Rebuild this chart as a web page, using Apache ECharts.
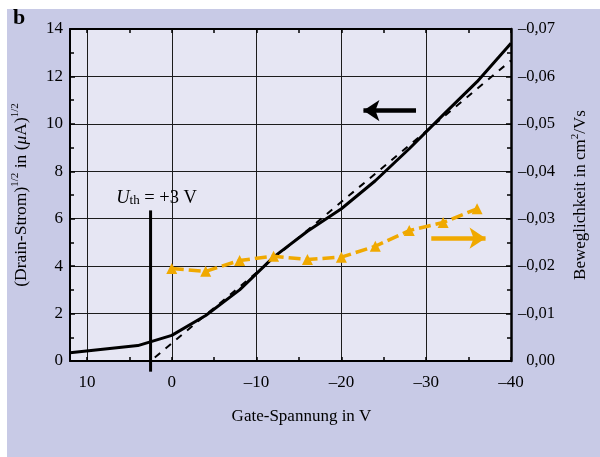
<!DOCTYPE html>
<html>
<head>
<meta charset="utf-8">
<script src="https://cdn.jsdelivr.net/npm/echarts@6/dist/echarts.min.js"></script>
<style>
html,body{margin:0;padding:0;background:#ffffff;}
#bg{position:absolute;left:7px;top:9px;width:593px;height:448px;background:#c8cae6;}
#c{position:absolute;left:0;top:0;width:600px;height:457px;}
</style>
</head>
<body>
<div id="bg"></div>
<div id="c"></div>
<script>
// ---- data ----
const gateV  = [12, 4, 0, -4, -8, -12, -16, -20, -24, -28, -32, -36, -40];
const sqrtId = [0.35, 0.65, 1.08, 1.92, 3.0, 4.38, 5.47, 6.42, 7.6, 8.95, 10.38, 11.78, 13.4];
const fitV   = [2.0, -40];
const fitY   = [0.15, 12.67];
const mobV   = [0, -4, -8, -12, -16, -20, -24, -28, -32, -36];
const mob    = [-0.0195, -0.0189, -0.0212, -0.0221, -0.0214, -0.0219, -0.0242, -0.0275, -0.0292, -0.0321];
const thV    = [2.5, 2.5];
const thY    = [-0.45, 6.35];
const arrowLeftV  = [-28.8, -22.6];   const arrowLeftY  = 10.56;
const arrowRightV = [-30.6, -37.0];   const arrowRightY = -0.0259;
const xTicksLabel = [10, 0, -10, -20, -30, -40];

const FONT = 'Liberation Serif';
const ORANGE = '#f0a900';
const GRIDC = '#1c1c1c';

function zip(a, b) { return a.map((v, i) => [v, b[i]]); }
function xFmt(v) {
  if (xTicksLabel.indexOf(v) < 0) return '';
  return v < 0 ? '\u2013' + (-v) : String(v);
}
function rFmt(v) {
  const s = Math.abs(v).toFixed(2).replace('.', ',');
  return Math.abs(v) < 1e-9 ? '0,00' : '\u2013' + s;
}

const chart = echarts.init(document.getElementById('c'), null, {renderer: 'canvas'});
const xBase = {type: 'value', min: -40, max: 12, inverse: true, gridIndex: 0};

chart.setOption({
  animation: false,
  backgroundColor: 'transparent',
  textStyle: {fontFamily: FONT},
  title: {text: 'b', left: 8, top: 2, textStyle: {fontFamily: FONT, fontSize: 22, fontWeight: 'bold', color: '#000'}},
  grid: {left: 70, right: 88, top: 29, bottom: 96, show: true, backgroundColor: '#e6e6f3', borderWidth: 0},
  xAxis: [
    Object.assign({}, xBase, {
      position: 'bottom', interval: 10,
      axisLine: {show: true, onZero: false, lineStyle: {color: '#000', width: 2}},
      axisTick: {show: false},
      axisLabel: {formatter: xFmt, margin: 13, color: '#000', fontSize: 17, fontFamily: FONT},
      splitLine: {show: true, lineStyle: {color: GRIDC, width: 1}},
      name: 'Gate-Spannung in V', nameLocation: 'middle', nameGap: 47,
      nameTextStyle: {fontFamily: FONT, fontSize: 17, color: '#000', padding: [0, 0, 0, 22]}
    }),
    Object.assign({}, xBase, {
      position: 'bottom', interval: 5,
      axisLine: {show: false, onZero: false},
      axisTick: {show: true, inside: true, length: 4, lineStyle: {color: '#000', width: 1.5}},
      axisLabel: {show: false}, splitLine: {show: false}
    }),
    Object.assign({}, xBase, {
      position: 'top', interval: 5,
      axisLine: {show: true, onZero: false, lineStyle: {color: '#000', width: 2}},
      axisTick: {show: true, inside: true, length: 4, lineStyle: {color: '#000', width: 1.5}},
      axisLabel: {show: false}, splitLine: {show: false}
    })
  ],
  yAxis: [
    {
      type: 'value', position: 'left', min: 0, max: 14, interval: 2,
      axisLine: {show: true, onZero: false, lineStyle: {color: '#000', width: 2}},
      axisTick: {show: true, inside: true, length: 5, lineStyle: {color: '#000', width: 1.5}},
      minorTick: {show: true, splitNumber: 2, length: 4, lineStyle: {color: '#000', width: 1.5}},
      axisLabel: {margin: 7, color: '#000', fontSize: 17, fontFamily: FONT},
      splitLine: {show: true, lineStyle: {color: GRIDC, width: 1}},
      name: '(Drain-Strom){sup|1/2} in ({mu|\u03bc}A){sup|1/2}',
      nameLocation: 'middle', nameGap: 38, nameRotate: 90,
      nameTextStyle: {
        fontFamily: FONT, fontSize: 17.5, color: '#000', lineHeight: 22,
        rich: {
          sup: {fontFamily: FONT, fontSize: 11, color: '#000', verticalAlign: 'top', lineHeight: 12},
          mu: {fontFamily: FONT, fontSize: 17.5, color: '#000', fontStyle: 'italic', lineHeight: 22}
        }
      }
    },
    {
      type: 'value', position: 'right', min: -0.07, max: 0, interval: 0.01, inverse: true,
      axisLine: {show: true, onZero: false, lineStyle: {color: '#000', width: 2.5}},
      axisTick: {show: true, inside: true, length: 5, lineStyle: {color: '#000', width: 1.5}},
      minorTick: {show: true, splitNumber: 2, length: 4, lineStyle: {color: '#000', width: 1.5}},
      axisLabel: {formatter: rFmt, margin: 44, align: 'right', color: '#000', fontSize: 16.5, fontFamily: FONT},
      splitLine: {show: false},
      name: 'Beweglichkeit in cm{sup|2}/Vs',
      nameLocation: 'middle', nameGap: 59, nameRotate: 90,
      nameTextStyle: {
        fontFamily: FONT, fontSize: 17, color: '#000', lineHeight: 22,
        rich: {sup: {fontFamily: FONT, fontSize: 11, color: '#000', verticalAlign: 'top', lineHeight: 12}}
      }
    }
  ],
  series: [
    {
      type: 'line', name: 'fit', xAxisIndex: 0, yAxisIndex: 0,
      data: zip(fitV, fitY), symbol: 'none', silent: true,
      lineStyle: {color: '#000', width: 2, type: [7, 7]}, z: 3
    },
    {
      type: 'line', name: 'sqrtId', xAxisIndex: 0, yAxisIndex: 0,
      data: zip(gateV, sqrtId), symbol: 'none', silent: true,
      lineStyle: {color: '#000', width: 3}, z: 4,
      markLine: {
        silent: true, symbol: ['none', 'arrow'], symbolSize: 16,
        label: {show: false},
        lineStyle: {color: '#000', width: 4.5, type: 'solid'},
        data: [[{coord: [arrowLeftV[0], arrowLeftY]}, {coord: [arrowLeftV[1], arrowLeftY]}]]
      }
    },
    {
      type: 'line', name: 'mobility', xAxisIndex: 0, yAxisIndex: 1,
      data: zip(mobV, mob), symbol: 'triangle', symbolSize: 11, silent: true,
      itemStyle: {color: ORANGE}, lineStyle: {color: ORANGE, width: 3.5, type: [12, 5]}, z: 5,
      markLine: {
        silent: true, symbol: ['none', 'arrow'], symbolSize: 16,
        label: {show: false},
        lineStyle: {color: ORANGE, width: 4.5, type: 'solid'},
        data: [[{coord: [arrowRightV[0], arrowRightY]}, {coord: [arrowRightV[1], arrowRightY]}]]
      }
    },
    {
      type: 'line', name: 'threshold', xAxisIndex: 0, yAxisIndex: 0, clip: false,
      data: [
        {value: [thV[0], thY[0]]},
        {value: [thV[1], thY[1]], label: {
          show: true, position: 'top', distance: 3, offset: [6, 0],
          formatter: '{u|U}{sub|th} = +3 V',
          fontFamily: FONT, fontSize: 18.5, color: '#000',
          rich: {
            u: {fontFamily: FONT, fontSize: 18.5, fontStyle: 'italic', color: '#000'},
            sub: {fontFamily: FONT, fontSize: 13, color: '#000', verticalAlign: 'bottom'}
          }
        }}
      ],
      symbol: 'circle', symbolSize: 0.1, showSymbol: true, silent: true,
      itemStyle: {color: 'rgba(0,0,0,0)'},
      lineStyle: {color: '#000', width: 3}, z: 6
    }
  ]
});
</script>
</body>
</html>
